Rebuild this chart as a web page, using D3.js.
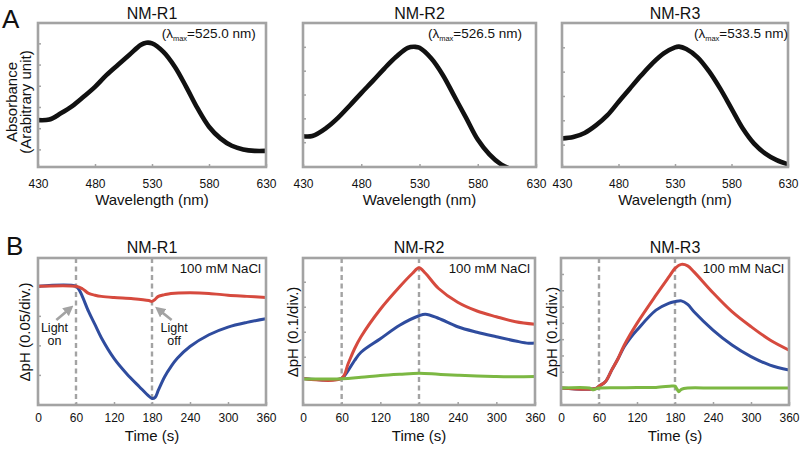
<!DOCTYPE html>
<html>
<head>
<meta charset="utf-8">
<script src="https://cdn.jsdelivr.net/npm/d3@7"></script>
<style>
  body { margin: 0; background: #fff; }
  svg { display: block; font-family: "Liberation Sans", Arial, sans-serif; }
</style>
</head>
<body>
<div id="chart"></div>
<script>
// ---- panel A: absorption spectra (y in tick divisions, arbitrary units)
const wlR1 = [430, 440, 450, 460, 470, 480, 490, 500, 510, 520, 525, 530, 540, 550, 560, 570, 580, 590, 600, 610, 620, 630]
const absR1 = [1.38, 1.41, 1.70, 2.04, 2.48, 2.95, 3.50, 3.98, 4.45, 4.92, 5.03, 5.00, 4.60, 3.90, 2.95, 1.93, 1.07, 0.52, 0.17, 0.00, -0.07, -0.07]
const wlR2 = [430, 438, 450, 460, 470, 480, 490, 500, 510, 520, 526.5, 530, 540, 550, 560, 570, 580, 590, 600, 612]
const absR2 = [0.25, 0.26, 0.60, 1.02, 1.53, 2.06, 2.57, 3.10, 3.58, 3.96, 4.00, 3.96, 3.52, 2.82, 1.92, 1.02, 0.11, -0.51, -0.93, -1.2]
const wlR3 = [430, 440, 450, 460, 470, 480, 490, 500, 510, 520, 530, 533.5, 540, 550, 560, 570, 580, 590, 600, 610, 620, 630]
const absR3 = [0.25, 0.31, 0.48, 0.79, 1.20, 1.75, 2.30, 2.84, 3.34, 3.75, 4.00, 4.03, 3.93, 3.59, 3.02, 2.30, 1.48, 0.66, 0.04, -0.37, -0.64, -0.81]
const lambdaMax = ["525.0", "526.5", "533.5"]
const wlTicks = [430, 480, 530, 580, 630]

// ---- panel B: light-induced pH change, time in s
const tR1red = [0, 60, 70, 80, 90, 100, 120, 150, 175, 180, 185, 190, 200, 210, 240, 270, 300, 330, 360]
const pR1red = [0, 0, -0.004, -0.012, -0.015, -0.017, -0.019, -0.021, -0.024, -0.0255, -0.022, -0.017, -0.014, -0.012, -0.011, -0.012, -0.015, -0.017, -0.019]
const tR1blue = [0, 60, 65, 70, 80, 90, 100, 120, 140, 160, 175, 180, 185, 190, 200, 210, 220, 240, 270, 300, 330, 360]
const pR1blue = [0, 0, -0.006, -0.017, -0.043, -0.065, -0.087, -0.122, -0.148, -0.170, -0.186, -0.190, -0.188, -0.176, -0.153, -0.136, -0.122, -0.102, -0.082, -0.069, -0.061, -0.055]

const tR2red = [0, 60, 70, 80, 90, 120, 150, 170, 180, 190, 210, 240, 270, 300, 330, 360]
const pR2red = [0.013, 0.014, 0.072, 0.132, 0.18, 0.29, 0.38, 0.434, 0.456, 0.434, 0.374, 0.318, 0.283, 0.26, 0.24, 0.23]
const tR2blue = [0, 60, 70, 80, 90, 120, 150, 180, 190, 210, 240, 270, 300, 330, 350, 360]
const pR2blue = [0.013, 0.014, 0.045, 0.085, 0.118, 0.172, 0.226, 0.264, 0.27, 0.254, 0.22, 0.198, 0.18, 0.163, 0.154, 0.155]
const tR2green = [0, 60, 90, 120, 150, 180, 210, 240, 270, 300, 330, 360]
const pR2green = [0.011, 0.012, 0.018, 0.025, 0.030, 0.034, 0.030, 0.026, 0.023, 0.021, 0.020, 0.021]

const tR3red = [0, 55, 60, 70, 80, 90, 100, 120, 150, 170, 180, 190, 200, 210, 240, 270, 300, 330, 360]
const pR3red = [0, -0.003, 0.012, 0.039, 0.11, 0.18, 0.264, 0.397, 0.57, 0.68, 0.734, 0.759, 0.75, 0.713, 0.585, 0.469, 0.377, 0.295, 0.233]
const tR3blue = [0, 55, 60, 70, 80, 90, 100, 110, 120, 150, 170, 180, 190, 200, 210, 240, 270, 300, 330, 360]
const pR3blue = [0, -0.003, 0.012, 0.039, 0.11, 0.18, 0.255, 0.31, 0.356, 0.478, 0.52, 0.53, 0.535, 0.513, 0.468, 0.356, 0.264, 0.193, 0.141, 0.11]
const tR3green = [0, 45, 50, 55, 60, 90, 120, 150, 175, 180, 183, 186, 190, 200, 240, 300, 360]
const pR3green = [0, 0, -0.01, -0.005, 0, 0.002, 0.003, 0.004, 0.012, 0.012, -0.005, -0.022, -0.008, 0, 0, 0, 0]

const timeTicks = [0, 60, 120, 180, 240, 300, 360]
const lightOn = 60, lightOff = 180
const titles = ["NM-R1", "NM-R2", "NM-R3"]

const W = 802, H = 450
const grey = "#a3a3a3"
const colors = { red: "#d64a3e", blue: "#2f4c9e", green: "#7cb843" }

const svg = d3.select("#chart").append("svg")
    .attr("width", W).attr("height", H)
    .attr("viewBox", [0, 0, W, H].join(" "))

// box of every panel (plot frame)
const boxesA = [
    { x: 38, w: 228, y: 23, h: 144, ydom: [-0.83, 5.96], yt: [0, 1, 2, 3, 4, 5] },
    { x: 303, w: 233, y: 23, h: 144, ydom: [-1.04, 5.0], yt: [0, 1, 2, 3, 4] },
    { x: 562, w: 226, y: 23, h: 144, ydom: [-0.92, 5.0], yt: [0, 1, 2, 3, 4] }
]
const boxesB = [
    { x: 38, w: 228, y: 258, h: 147, ydom: [-0.201, 0.048], yt: [-0.15, -0.1, -0.05, 0], ylab: "ΔpH (0.05/div.)", lx: 8 },
    { x: 303, w: 232, y: 258, h: 147, ydom: [-0.093, 0.495], yt: [0.1, 0.2, 0.3, 0.4], ylab: "ΔpH (0.1/div.)", lx: 5 },
    { x: 561, w: 228, y: 258, h: 147, ydom: [-0.104, 0.798], yt: [0.1, 0.2, 0.3, 0.4, 0.5, 0.6, 0.7], ylab: "ΔpH (0.1/div.)", lx: 4 }
]

const specs = [[wlR1, absR1], [wlR2, absR2], [wlR3, absR3]]
const lamEnd = [621, 618, 630]   // right end of the λmax note, in nm

const traces = [
    [["blue", tR1blue, pR1blue], ["red", tR1red, pR1red]],
    [["blue", tR2blue, pR2blue], ["red", tR2red, pR2red], ["green", tR2green, pR2green]],
    [["blue", tR3blue, pR3blue], ["red", tR3red, pR3red], ["green", tR3green, pR3green]]
]

function frame(g, b, id) {
    g.append("clipPath").attr("id", id)
        .append("rect").attr("x", b.x).attr("y", b.y).attr("width", b.w).attr("height", b.h)
}

function axes(g, b, x, y, xt, pad) {
    g.append("g")
        .attr("transform", `translate(0,${b.y + b.h})`)
        .call(d3.axisBottom(x).tickValues(xt).tickSizeInner(-3).tickSizeOuter(0).tickPadding(pad))
        .call(g => g.select(".domain").remove())
        .call(g => g.selectAll(".tick line").attr("stroke", grey).attr("stroke-width", 1.5))
        .call(g => g.selectAll(".tick text").attr("fill", "#111").style("font-size", "12px"))
    g.append("g")
        .attr("transform", `translate(${b.x},0)`)
        .call(d3.axisLeft(y).tickValues(b.yt).tickSizeInner(-3).tickSizeOuter(0).tickFormat(""))
        .call(g => g.select(".domain").remove())
        .call(g => g.selectAll(".tick line").attr("stroke", grey).attr("stroke-width", 1.5))
}

// ---------- row A
boxesA.forEach((b, i) => {
    const g = svg.append("g")
    const x = d3.scaleLinear().domain([430, 630]).range([b.x, b.x + b.w])
    const y = d3.scaleLinear().domain(b.ydom).range([b.y + b.h, b.y])
    frame(g, b, "clipA" + i)
    axes(g, b, x, y, wlTicks, 12)

    const [wl, ab] = specs[i]
    const line = d3.line().x((d, k) => x(wl[k])).y(d => y(d)).curve(d3.curveCatmullRom)
    g.append("path")
        .attr("clip-path", `url(#clipA${i})`)
        .attr("fill", "none").attr("stroke", "#111").attr("stroke-width", 4.6)
        .attr("stroke-linejoin", "round")
        .attr("d", line(ab))

    g.append("rect").attr("x", b.x).attr("y", b.y).attr("width", b.w).attr("height", b.h)
        .attr("fill", "none").attr("stroke", grey).attr("stroke-width", 2.6)

    g.append("text").attr("x", b.x + b.w / 2).attr("y", 19)
        .attr("text-anchor", "middle").style("font-size", "16px").attr("fill", "#111")
        .text(titles[i])

    const note = g.append("text").attr("x", x(lamEnd[i])).attr("y", 38)
        .attr("text-anchor", "end").style("font-size", "13.5px").attr("fill", "#111")
    note.append("tspan").text("(λ")
    note.append("tspan").attr("dy", 3).style("font-size", "7.5px").text("max")
    note.append("tspan").attr("dy", -3).text("=" + lambdaMax[i] + " nm)")

    g.append("text").attr("x", b.x + b.w / 2).attr("y", 205)
        .attr("text-anchor", "middle").style("font-size", "15px").attr("fill", "#111")
        .text("Wavelength (nm)")
})

svg.append("text").attr("transform", "translate(16.5,102) rotate(-90)")
    .attr("text-anchor", "middle").style("font-size", "15px").attr("fill", "#111")
    .text("Absorbance")
svg.append("text").attr("transform", "translate(30.5,102) rotate(-90)")
    .attr("text-anchor", "middle").style("font-size", "15px").attr("fill", "#111")
    .text("(Arabitrary unit)")
svg.append("text").attr("x", 2).attr("y", 28).style("font-size", "26px").attr("fill", "#111").text("A")

// ---------- row B
boxesB.forEach((b, i) => {
    const g = svg.append("g")
    const x = d3.scaleLinear().domain([0, 360]).range([b.x, b.x + b.w])
    const y = d3.scaleLinear().domain(b.ydom).range([b.y + b.h, b.y])
    frame(g, b, "clipB" + i)
    axes(g, b, x, y, timeTicks, 8.5)

    g.selectAll("line.light")
        .data([lightOn, lightOff])
        .join("line")
        .attr("class", "light")
        .attr("x1", d => x(d)).attr("x2", d => x(d))
        .attr("y1", b.y).attr("y2", b.y + b.h)
        .attr("stroke", grey).attr("stroke-width", 2.4).attr("stroke-dasharray", "5,3.5")

    g.append("g").attr("clip-path", `url(#clipB${i})`)
        .selectAll("path")
        .data(traces[i])
        .join("path")
        .attr("fill", "none")
        .attr("stroke", d => colors[d[0]])
        .attr("stroke-width", 3)
        .attr("stroke-linejoin", "round")
        .attr("d", d => d3.line().x((v, k) => x(d[1][k])).y(v => y(v)).curve(d3.curveCatmullRom)(d[2]))

    g.append("rect").attr("x", b.x).attr("y", b.y).attr("width", b.w).attr("height", b.h)
        .attr("fill", "none").attr("stroke", grey).attr("stroke-width", 2.6)

    g.append("text").attr("x", b.x + b.w / 2).attr("y", 253)
        .attr("text-anchor", "middle").style("font-size", "16px").attr("fill", "#111")
        .text(titles[i])

    g.append("text").attr("x", b.x + b.w - 5).attr("y", 273)
        .attr("text-anchor", "end").style("font-size", "13.3px").attr("fill", "#111")
        .text("100 mM NaCl")

    g.append("text").attr("x", b.x + b.w / 2).attr("y", 441)
        .attr("text-anchor", "middle").style("font-size", "15px").attr("fill", "#111")
        .text("Time (s)")

    g.append("text").attr("transform", `translate(${b.x - b.lx},332) rotate(-90)`)
        .attr("text-anchor", "middle").style("font-size", "15px").attr("fill", "#111")
        .text(b.ylab)

    if (i === 0) {
        // light on / off notes, placed in data units
        const notes = [
            { t: 26, lines: ["Light", "on"], from: [29, -0.057], to: [51, -0.037] },
            { t: 215, lines: ["Light", "off"], from: [211, -0.057], to: [190, -0.039] }
        ]
        svg.append("defs").append("marker")
            .attr("id", "head").attr("viewBox", "0 0 10 10")
            .attr("refX", 6).attr("refY", 5)
            .attr("markerWidth", 4).attr("markerHeight", 4)
            .attr("orient", "auto")
            .append("path").attr("d", "M0,0L10,5L0,10Z").attr("fill", grey)
        notes.forEach(n => {
            g.append("line")
                .attr("x1", x(n.from[0])).attr("y1", y(n.from[1]))
                .attr("x2", x(n.to[0])).attr("y2", y(n.to[1]))
                .attr("stroke", grey).attr("stroke-width", 2.6)
                .attr("marker-end", "url(#head)")
            n.lines.forEach((s, k) => {
                g.append("text").attr("x", x(n.t)).attr("y", y(-0.078) + k * 13)
                    .attr("text-anchor", "middle").style("font-size", "12.5px").attr("fill", "#111")
                    .text(s)
            })
        })
    }
})

svg.append("text").attr("x", 6).attr("y", 255).style("font-size", "26px").attr("fill", "#111").text("B")
</script>
</body>
</html>
